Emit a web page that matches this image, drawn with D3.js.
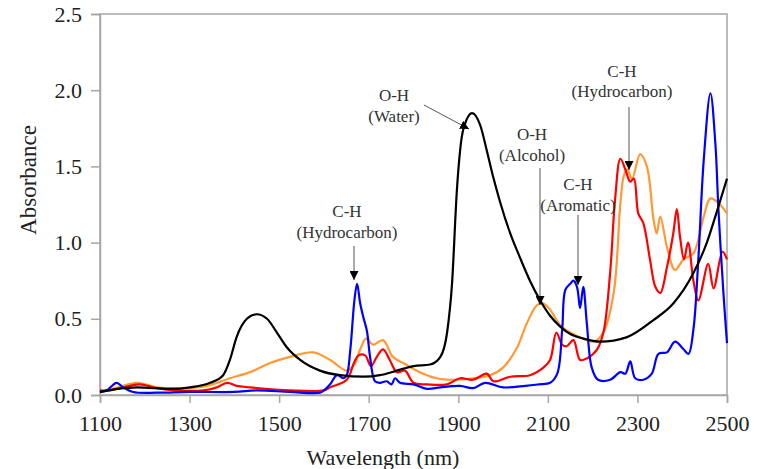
<!DOCTYPE html>
<html><head><meta charset="utf-8">
<script src="https://cdn.jsdelivr.net/npm/d3@7"></script>
<style>body{margin:0;background:#fff}svg{display:block}text{font-family:"Liberation Serif","Times New Roman",serif}</style>
</head><body><svg id="c" width="761" height="469"></svg>
<script>
const xTicks = [1100,1300,1500,1700,1900,2100,2300,2500];
const yTicks = [0,0.5,1.0,1.5,2.0,2.5];

const blackX = [1100,1140,1183,1256,1301,1346,1375,1390,1405,1428,1450,1473,1495,1518,1547,1591,1636,1688,1725,1763,1800,1837,1860,1875,1886,1897,1911,1931,1949,1964,1978,1993,2016,2038,2060,2083,2105,2127,2150,2179,2217,2277,2335,2380,2425,2455,2478,2500];
const blackY = [0.02,0.04,0.05,0.04,0.05,0.08,0.13,0.23,0.38,0.50,0.53,0.50,0.41,0.31,0.23,0.16,0.13,0.12,0.13,0.16,0.19,0.20,0.25,0.41,0.73,1.35,1.74,1.85,1.77,1.60,1.43,1.27,1.06,0.90,0.75,0.62,0.52,0.45,0.40,0.37,0.35,0.38,0.49,0.60,0.80,1.00,1.21,1.42];

const orangeX = [1100,1140,1183,1227,1256,1301,1346,1390,1435,1480,1524,1576,1614,1651,1668,1681,1694,1710,1732,1754,1777,1814,1852,1889,1933,1971,2000,2031,2053,2076,2090,2105,2127,2150,2179,2202,2224,2247,2262,2269,2277,2288,2306,2321,2336,2343,2351,2366,2384,2403,2425,2448,2463,2481,2500];
const orangeY = [0.02,0.05,0.08,0.05,0.045,0.045,0.065,0.11,0.15,0.21,0.25,0.28,0.23,0.16,0.20,0.30,0.37,0.33,0.36,0.25,0.21,0.15,0.11,0.10,0.11,0.13,0.18,0.31,0.47,0.59,0.60,0.56,0.46,0.41,0.37,0.35,0.41,0.67,1.26,1.43,1.48,1.42,1.58,1.50,1.15,1.06,1.17,0.97,0.82,0.89,0.93,1.17,1.29,1.26,1.19];

const redX = [1100,1120,1167,1189,1227,1270,1331,1361,1384,1405,1435,1524,1600,1614,1651,1667,1677,1692,1705,1718,1732,1747,1763,1781,1800,1830,1875,1904,1933,1964,1978,2016,2060,2090,2105,2119,2132,2142,2157,2172,2187,2210,2224,2239,2250,2262,2273,2284,2292,2302,2313,2328,2340,2351,2366,2380,2388,2395,2404,2413,2425,2436,2458,2470,2490,2500];
const redY = [0.03,0.03,0.06,0.07,0.045,0.03,0.03,0.05,0.08,0.06,0.05,0.03,0.03,0.05,0.10,0.21,0.26,0.26,0.19,0.25,0.30,0.23,0.15,0.16,0.08,0.07,0.07,0.11,0.10,0.14,0.09,0.12,0.13,0.18,0.23,0.41,0.33,0.32,0.36,0.23,0.24,0.30,0.41,0.80,1.28,1.55,1.48,1.40,1.42,1.19,1.13,0.89,0.71,0.67,0.84,1.06,1.22,1.04,0.89,1.00,0.75,0.62,0.86,0.70,0.94,0.89];

const blueX = [1100,1115,1137,1152,1174,1227,1300,1400,1450,1524,1591,1600,1614,1629,1644,1651,1659,1668,1674,1681,1688,1696,1703,1714,1725,1740,1751,1759,1770,1800,1830,1860,1904,1933,1960,2000,2050,2080,2105,2121,2132,2139,2150,2157,2165,2172,2179,2187,2198,2212,2239,2262,2273,2284,2295,2313,2332,2347,2366,2384,2403,2414,2425,2436,2448,2463,2474,2481,2492,2500];
const blueY = [0.02,0.03,0.08,0.05,0.02,0.015,0.02,0.02,0.03,0.02,0.015,0.03,0.07,0.13,0.11,0.13,0.30,0.62,0.73,0.60,0.51,0.42,0.25,0.09,0.08,0.09,0.07,0.11,0.08,0.07,0.04,0.05,0.06,0.045,0.08,0.05,0.06,0.07,0.08,0.14,0.43,0.69,0.73,0.75,0.71,0.57,0.71,0.47,0.18,0.10,0.10,0.15,0.14,0.22,0.11,0.10,0.14,0.27,0.28,0.35,0.30,0.27,0.43,0.89,1.54,1.98,1.65,1.21,0.67,0.34];

const annLabels = [["C-H","(Hydrocarbon)"],["O-H","(Water)"],["O-H","(Alcohol)"],["C-H","(Aromatic)"],["C-H","(Hydrocarbon)"]];

const FONT = "'Liberation Serif', 'Times New Roman', serif";
const svg = d3.select("#c");
const x = d3.scaleLinear().domain([1100,2500]).range([100,727]);
const y = d3.scaleLinear().domain([0,2.5]).range([395,14]);
const axisColor = "#a6a6a6";

svg.append("rect").attr("x",100).attr("y",14).attr("width",627).attr("height",381)
  .attr("fill","none").attr("stroke",axisColor).attr("stroke-width",1.5);

const gx = svg.append("g").attr("transform","translate(0,395)")
  .call(d3.axisBottom(x).tickValues(xTicks).tickSize(8).tickPadding(12).tickFormat(d3.format("d")));
const gy = svg.append("g").attr("transform","translate(100,0)")
  .call(d3.axisLeft(y).tickValues(yTicks).tickSize(9).tickPadding(9).tickFormat(d3.format(".1f")));
[gx,gy].forEach(g=>{
  g.select(".domain").attr("stroke",axisColor).attr("stroke-width",1.5);
  g.selectAll(".tick line").attr("stroke",axisColor).attr("stroke-width",1.5);
  g.selectAll("text").attr("font-family",FONT).attr("font-size",22).attr("fill","#222");
});

svg.append("text").attr("x",383).attr("y",465).attr("text-anchor","middle")
  .attr("font-family",FONT).attr("font-size",22).attr("fill","#222").text("Wavelength (nm)");
svg.append("text").attr("transform","translate(36,180) rotate(-90)").attr("text-anchor","middle")
  .attr("font-family",FONT).attr("font-size",23).attr("fill","#222").text("Absorbance");

const lineC = d3.line().x(d=>x(d[0])).y(d=>y(d[1])).curve(d3.curveCatmullRom.alpha(0.5));
const lineM = d3.line().x(d=>x(d[0])).y(d=>y(d[1])).curve(d3.curveMonotoneX);
const series = [
  {xs:orangeX, ys:orangeY, c:"#ff9933", l:lineC},
  {xs:redX, ys:redY, c:"#ff0000", l:lineC},
  {xs:blueX, ys:blueY, c:"#0000ff", l:lineC},
  {xs:blackX, ys:blackY, c:"#000000", l:lineM}
];
series.forEach(s=>{
  svg.append("path").datum(s.xs.map((v,i)=>[v,s.ys[i]]))
    .attr("d",s.l).attr("fill","none").attr("stroke",s.c).attr("stroke-width",2.2)
    .attr("stroke-linejoin","round");
});

const annPos = [
  {cx:347, b1:217, b2:238, from:[354,246], to:[354,280]},
  {cx:394, b1:101, b2:122, from:[424,105], to:[469,129]},
  {cx:532, b1:140, b2:161, from:[540,168], to:[540,305]},
  {cx:578, b1:190, b2:211, from:[578,215], to:[578,285]},
  {cx:622, b1:77, b2:97, from:[629,107], to:[629,170]}
];
svg.append("defs").append("marker").attr("id","ah").attr("viewBox","0 0 10 10")
  .attr("refX",10).attr("refY",5).attr("markerWidth",9).attr("markerHeight",9)
  .attr("markerUnits","userSpaceOnUse").attr("orient","auto")
  .append("path").attr("d","M0,0 L10,5 L0,10 Z").attr("fill","#000");
annLabels.forEach((lab,i)=>{
  const p = annPos[i];
  svg.append("text").attr("x",p.cx).attr("y",p.b1).attr("text-anchor","middle")
    .attr("font-family",FONT).attr("font-size",17).attr("fill","#333").text(lab[0]);
  svg.append("text").attr("x",p.cx).attr("y",p.b2).attr("text-anchor","middle")
    .attr("font-family",FONT).attr("font-size",17).attr("fill","#333").text(lab[1]);
  svg.append("line").attr("x1",p.from[0]).attr("y1",p.from[1]).attr("x2",p.to[0]).attr("y2",p.to[1])
    .attr("stroke","#555").attr("stroke-width",1).attr("marker-end","url(#ah)");
});
</script></body></html>
